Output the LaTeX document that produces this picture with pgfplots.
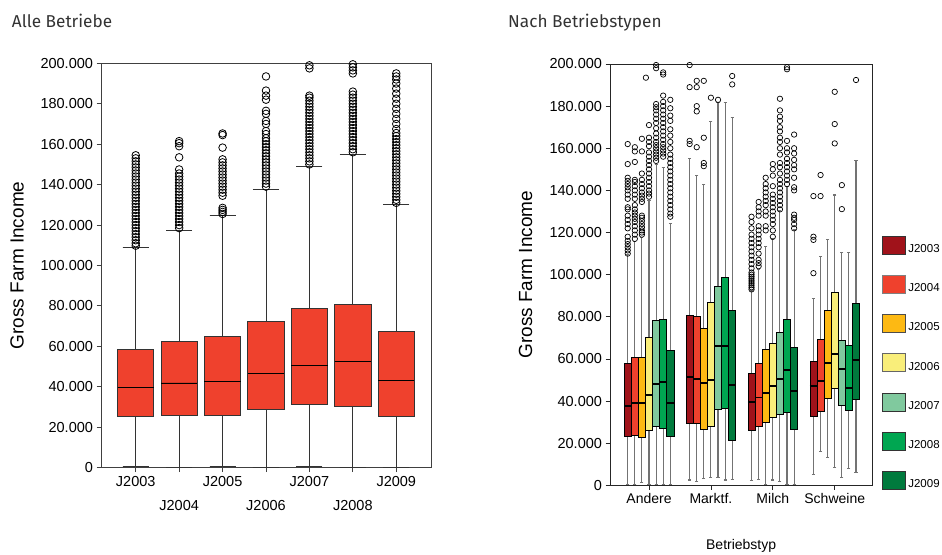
\documentclass[border=0pt]{standalone}
\usepackage{fontspec}
\setmainfont{Liberation Sans}
\newfontfamily\titlefont{Fira Sans}
\usepackage{pgfplots}
\pgfplotsset{compat=1.18}
\usepgfplotslibrary{statistics}
\definecolor{c03}{RGB}{160,18,26}
\definecolor{c04}{RGB}{239,65,45}
\definecolor{c05}{RGB}{253,185,19}
\definecolor{c06}{RGB}{249,238,122}
\definecolor{c07}{RGB}{128,201,158}
\definecolor{c08}{RGB}{0,166,81}
\definecolor{c09}{RGB}{0,122,61}
\pgfplotsset{boxplot/draw direction=y}
\newcommand{\bpL}[6]{\addplot[boxplot prepared={draw position=#1, lower whisker=#2, lower quartile=#3, median=#4, upper quartile=#5, upper whisker=#6, box extend=0.835, whisker extend=0.6}, fill=c04, draw=black!80, line width=0.8pt] coordinates {};}
\newcommand{\bpR}[7]{\addplot[boxplot prepared={draw position=#1, lower whisker=#3, lower quartile=#4, median=#5, upper quartile=#6, upper whisker=#7, box extend=0.115, whisker extend=0.05}, fill=#2, draw=black, line width=0.6pt] coordinates {};}
\begin{document}
\begin{tikzpicture}
\path[use as bounding box] (0pt,0pt) rectangle (942pt,554pt);
\node[anchor=base west, inner sep=0pt, font=\titlefont\fontsize{17.2}{20}\selectfont, text=black!80] at (11.7pt,526.7pt) {Alle Betriebe};
\node[anchor=base west, inner sep=0pt, font=\titlefont\fontsize{17.2}{20}\selectfont, text=black!80] at (508pt,526.7pt) {Nach Betriebstypen};
% ---------------- left panel
\begin{axis}[at={(101pt,86.3pt)}, anchor=south west, scale only axis,
  width=330pt, height=404.4pt,
  xmin=0.2, xmax=7.8, ymin=0, ymax=200, clip=false,
  xtick={1,...,7},
  xticklabels={{\rule{0pt}{11pt}J2003},{\rule{0pt}{11pt}\\J2004},{\rule{0pt}{11pt}J2005},{\rule{0pt}{11pt}\\J2006},{\rule{0pt}{11pt}J2007},{\rule{0pt}{11pt}\\J2008},{\rule{0pt}{11pt}J2009}},
  xticklabel style={align=center, font=\fontsize{14.5}{24}\selectfont},
  ytick={0,20,...,200},
  yticklabels={0,20.000,40.000,60.000,80.000,100.000,120.000,140.000,160.000,180.000,200.000},
  yticklabel style={font=\fontsize{14.5}{17}\selectfont},
  tick align=outside, major tick length=4.5pt, xtick pos=bottom, ytick pos=left,
  axis line style={draw=black!75, line width=0.9pt},
  tick style={draw=black!75, line width=0.9pt},
  boxplot/every median/.style={black, line width=0.9pt},
  boxplot/every whisker/.style={black!80, line width=0.9pt},
]
\bpL{1}{0.5}{25.2}{39.9}{58.7}{109}
\bpL{2}{0.3}{25.9}{41.9}{62.5}{117.4}
\bpL{3}{0.5}{25.9}{42.7}{65.1}{124.6}
\bpL{4}{0.3}{28.9}{46.5}{72.5}{137.7}
\bpL{5}{0.5}{31.2}{50.4}{78.6}{149.2}
\bpL{6}{0.3}{30.5}{52.6}{80.8}{155}
\bpL{7}{0.3}{25.2}{43.2}{67.3}{130.4}
\addplot[only marks, mark=o, mark size=3.8pt, mark options={line width=0.8pt, draw=black}] coordinates {
(1,109.8)(1,111)(1,112.5)(1,114)(1,115.5)(1,117)(1,118.5)(1,120)(1,121.5)(1,123)(1,124.5)(1,126)(1,127.5)(1,129)(1,130.5)(1,132)(1,133.5)(1,135)(1,136.5)(1,138)(1,139.5)(1,141)(1,142.5)(1,144)(1,145.5)(1,147)(1,148.5)(1,150)(1,151.5)(1,153)(1,154.5)
(2,118.5)(2,120)(2,121.5)(2,123)(2,124.5)(2,126)(2,127.5)(2,129)(2,130.5)(2,132)(2,133.5)(2,135)(2,136.5)(2,138)(2,139.5)(2,141)(2,142.5)(2,144)(2,145.5)(2,147.5)(2,153.5)(2,159)(2,160.5)(2,161.5)
(3,125.5)(3,126.5)(3,127.5)(3,128.5)(3,134.5)(3,136)(3,137.5)(3,139)(3,140.5)(3,142)(3,143.5)(3,145)(3,146.5)(3,148)(3,149.5)(3,151)(3,152.5)(3,158.3)(3,164.5)(3,165.3)
(4,139)(4,140.5)(4,142)(4,143.5)(4,145)(4,146.5)(4,148)(4,149.5)(4,151)(4,152.5)(4,154)(4,155.5)(4,157)(4,158.5)(4,160)(4,161.5)(4,163)(4,165)(4,166.5)(4,170)(4,171.5)(4,175)(4,176.5)(4,182)(4,184)(4,186.5)(4,193.5)
(5,150)(5,151.5)(5,153)(5,154.5)(5,156)(5,157.5)(5,159)(5,160.5)(5,162)(5,163.5)(5,165)(5,166.5)(5,168)(5,169.5)(5,171)(5,172.5)(5,174)(5,175.5)(5,177)(5,178.5)(5,180)(5,181.5)(5,183)(5,184)(5,197.5)(5,199)
(6,156)(6,157.5)(6,159)(6,160.5)(6,162)(6,163.5)(6,165)(6,166.5)(6,168)(6,169.5)(6,171)(6,172.5)(6,174)(6,175.5)(6,177)(6,178.5)(6,180)(6,181.5)(6,183)(6,184.5)(6,186)(6,195)(6,196.5)(6,198)(6,199.5)
(7,131)(7,132.5)(7,134)(7,135.5)(7,137)(7,138.5)(7,140)(7,141.5)(7,143)(7,144.5)(7,146)(7,147.5)(7,149)(7,150.5)(7,152)(7,153.5)(7,155)(7,156.5)(7,158)(7,159.5)(7,161)(7,162.5)(7,164)(7,165.5)(7,167.5)(7,170)(7,172.5)(7,175)(7,177.5)(7,180)(7,182.5)(7,185)(7,187.5)(7,190)(7,192)(7,193.5)(7,195)
};
\node[rotate=90, font=\fontsize{19}{22}\selectfont] at ([xshift=-84pt]rel axis cs:0,0.5) {Gross Farm Income};
\end{axis}
% ---------------- right panel
\begin{axis}[at={(610pt,68.7pt)}, anchor=south west, scale only axis,
  width=262.3pt, height=421.3pt,
  xmin=0.37, xmax=4.607, ymin=0, ymax=200, clip=false,
  xtick={1,2,3,4}, xticklabels={Andere,Marktf.,Milch,Schweine},
  xticklabel style={font=\fontsize{14}{17}\selectfont},
  ytick={0,20,...,200},
  yticklabels={0,20.000,40.000,60.000,80.000,100.000,120.000,140.000,160.000,180.000,200.000},
  yticklabel style={font=\fontsize{14.5}{17}\selectfont},
  tick align=outside, major tick length=4.5pt, xtick pos=bottom, ytick pos=left,
  axis line style={draw=black!85, line width=0.8pt},
  tick style={draw=black!85, line width=0.8pt},
  boxplot/every median/.style={black, line width=1.8pt},
  boxplot/every whisker/.style={black!55, line width=1.1pt},
  legend image code/.code={\draw[#1, line width=0.6pt] (0pt,-5pt) rectangle (23pt,13pt);},
  legend style={at={(1.036,0.5925)}, anchor=north west, draw=none, fill=none, inner sep=0pt, outer sep=0pt, row sep=20.67pt, column sep=3pt, font=\fontsize{11.5}{13}\selectfont, nodes={inner sep=0pt}},
  legend cell align=left,
]
\addlegendimage{fill=c03, draw=black!80}\addlegendentry{J2003}
\addlegendimage{fill=c04, draw=black!50}\addlegendentry{J2004}
\addlegendimage{fill=c05, draw=black!70}\addlegendentry{J2005}
\addlegendimage{fill=c06, draw=black!60}\addlegendentry{J2006}
\addlegendimage{fill=c07, draw=black!80}\addlegendentry{J2007}
\addlegendimage{fill=c08, draw=black!80}\addlegendentry{J2008}
\addlegendimage{fill=c09, draw=black!80}\addlegendentry{J2009}
% Andere
\bpR{0.656}{c03}{0.5}{23.2}{37.8}{57.9}{109.5}
\bpR{0.771}{c04}{0.5}{23.7}{39.2}{60.9}{115.6}
\bpR{0.885}{c05}{1.4}{22.6}{39.2}{61}{117.5}
\bpR{1.000}{c06}{0.5}{25.9}{43}{70.1}{135.4}
\bpR{1.115}{c07}{0.5}{28.1}{48.2}{78.5}{152.5}
\bpR{1.229}{c08}{0.5}{27.1}{48.9}{78.9}{150.7}
\bpR{1.344}{c09}{0.5}{23.2}{38.9}{64.2}{124.4}
% Marktf.
\bpR{1.656}{c03}{2.5}{29.2}{51.3}{80.7}{155.2}
\bpR{1.771}{c04}{1.9}{29.5}{50.5}{80.0}{146.9}
\bpR{1.885}{c05}{3.3}{26.4}{48.7}{74.3}{142.7}
\bpR{2.000}{c06}{3.6}{28.1}{49.9}{86.7}{172.8}
\bpR{2.115}{c07}{3.9}{35.9}{66.1}{94.3}{181.8}
\bpR{2.229}{c08}{2.5}{36.6}{66.1}{98.7}{181.8}
\bpR{2.344}{c09}{2.9}{21.2}{47.5}{83.0}{174.5}
% Milch
\bpR{2.656}{c03}{2.3}{26.2}{39.5}{53.0}{92.5}
\bpR{2.771}{c04}{2.9}{27.8}{41.7}{57.9}{102.5}
\bpR{2.885}{c05}{0.5}{29.9}{43.7}{64.5}{113.2}
\bpR{3.000}{c06}{2.5}{32.3}{47.2}{67.5}{116.9}
\bpR{3.115}{c07}{1.9}{33.8}{50.6}{72.6}{130.3}
\bpR{3.229}{c08}{0.5}{34.5}{54.9}{78.9}{141.7}
\bpR{3.344}{c09}{0.5}{26.6}{44.8}{65.3}{121.6}
% Schweine
\bpR{3.656}{c03}{5.0}{32.6}{47.2}{59.1}{88.8}
\bpR{3.771}{c04}{16.1}{34.9}{49.6}{69.3}{108.8}
\bpR{3.885}{c05}{13.3}{41.1}{58.0}{82.9}{116.5}
\bpR{4.000}{c06}{8.5}{46.2}{62.3}{91.7}{137.8}
\bpR{4.115}{c07}{3.6}{38.1}{55.2}{68.7}{110.6}
\bpR{4.229}{c08}{7.8}{35.7}{46.3}{66.4}{110.6}
\bpR{4.344}{c09}{6.0}{40.6}{59.6}{86.4}{154.2}
\addplot[only marks, mark=o, mark size=2.7pt, mark options={line width=0.7pt, draw=black}] coordinates {
(0.656,110)(0.656,111.5)(0.656,113)(0.656,114.5)(0.656,116)(0.656,118)(0.656,122)(0.656,124)(0.656,126)(0.656,128)(0.656,131)(0.656,132)(0.656,136)(0.656,138)(0.656,140)(0.656,141.5)(0.656,143)(0.656,144.5)(0.656,146)(0.656,152.5)(0.656,162)
(0.771,117)(0.771,119)(0.771,121)(0.771,123)(0.771,125)(0.771,126.5)(0.771,128)(0.771,129.5)(0.771,131)(0.771,133)(0.771,136)(0.771,138)(0.771,140)(0.771,142)(0.771,144)(0.771,145)(0.771,153.5)(0.771,158.5)(0.771,160.5)
(0.885,119)(0.885,120)(0.885,121)(0.885,122.5)(0.885,124)(0.885,125.5)(0.885,127)(0.885,128)(0.885,134.5)(0.885,136)(0.885,137.5)(0.885,139)(0.885,141)(0.885,143)(0.885,145)(0.885,148)(0.885,158.5)(0.885,164.5)
(1.0,137)(1.0,138.5)(1.0,140)(1.0,142)(1.0,144)(1.0,146)(1.0,148)(1.0,150)(1.0,152)(1.0,154)(1.0,156)(1.0,158)(1.0,161)(1.0,163)(1.0,165)(1.0,171)(0.95,193.5)
(1.115,154)(1.115,155.5)(1.115,157)(1.115,158.5)(1.115,160)(1.115,161.5)(1.115,163)(1.115,165)(1.115,167)(1.115,169.5)(1.115,172)(1.115,174)(1.115,176)(1.115,178)(1.115,179.5)(1.115,181)(1.115,198)(1.115,199.5)
(1.229,156)(1.229,157.5)(1.229,159)(1.229,160.5)(1.229,162)(1.229,164)(1.229,166)(1.229,168)(1.229,170)(1.229,172)(1.229,174)(1.229,176)(1.229,178)(1.229,180)(1.229,182)(1.229,185)(1.229,195)(1.229,196)
(1.344,127.5)(1.344,129)(1.344,131)(1.344,133)(1.344,135)(1.344,137)(1.344,139)(1.344,141)(1.344,143)(1.344,145)(1.344,147)(1.344,149)(1.344,151)(1.344,153)(1.344,155)(1.344,157)(1.344,160)(1.344,163)(1.344,166)(1.344,169)(1.344,173)(1.344,175.5)(1.344,179)(1.344,183)
(1.656,162)(1.656,163.5)(1.656,189)(1.656,199.5)
(1.771,160.5)(1.771,177.5)(1.771,180)(1.771,189)(1.771,192)
(1.885,151.5)(1.885,153)(1.885,165)(1.885,192)
(2.0,184)(2.115,183)(2.344,190.3)(2.344,194.3)
(2.656,93)(2.656,94)(2.656,95)(2.656,96)(2.656,97)(2.656,98)(2.656,99)(2.656,100)(2.656,101)(2.656,103)(2.656,105)(2.656,107)(2.656,109)(2.656,111)(2.656,113)(2.656,115)(2.656,117)(2.656,119)(2.656,122)(2.656,125)(2.656,127.5)
(2.771,104)(2.771,105.5)(2.771,107)(2.771,110)(2.771,113)(2.771,115)(2.771,117)(2.771,119)(2.771,121)(2.771,123)(2.771,128)(2.771,130)(2.771,132)(2.771,134.5)
(2.885,121)(2.885,123)(2.885,128)(2.885,130)(2.885,133)(2.885,135)(2.885,137)(2.885,139)(2.885,141)(2.885,143)(2.885,146)
(3.0,118)(3.0,121)(3.0,124)(3.0,126)(3.0,128)(3.0,130)(3.0,132)(3.0,134)(3.0,136)(3.0,138)(3.0,142)(3.0,147)(3.0,150)(3.0,152.5)
(3.115,131)(3.115,133)(3.115,135)(3.115,137)(3.115,139)(3.115,141)(3.115,143)(3.115,145)(3.115,148)(3.115,151)(3.115,153)(3.115,157)(3.115,160)(3.115,163)(3.115,165)(3.115,168)(3.115,170)(3.115,173)(3.115,175)(3.115,178)(3.115,183.5)
(3.229,143)(3.229,145)(3.229,147)(3.229,149)(3.229,151)(3.229,153)(3.229,155)(3.229,158)(3.229,160)(3.229,163.5)(3.229,197.5)(3.229,198.5)
(3.344,122)(3.344,124)(3.344,126)(3.344,127)(3.344,128.5)(3.344,140)(3.344,141.5)(3.344,146)(3.344,150)(3.344,152)(3.344,154.5)(3.344,157.5)(3.344,160)(3.344,166.5)
(3.656,100.7)(3.656,116.5)(3.656,118)(3.656,137.3)
(3.771,137.3)(3.771,147.3)
(4.0,162.3)(4.0,171.5)(4.0,186.8)
(4.115,131.1)(4.115,142.5)
(4.344,192.4)
};
\node[rotate=90, font=\fontsize{19}{22}\selectfont] at ([xshift=-84.3pt]rel axis cs:0,0.5) {Gross Farm Income};
\node[font=\fontsize{14}{17}\selectfont] at ([yshift=-60.7pt]rel axis cs:0.5,0) {Betriebstyp};
\end{axis}
\end{tikzpicture}
\end{document}
